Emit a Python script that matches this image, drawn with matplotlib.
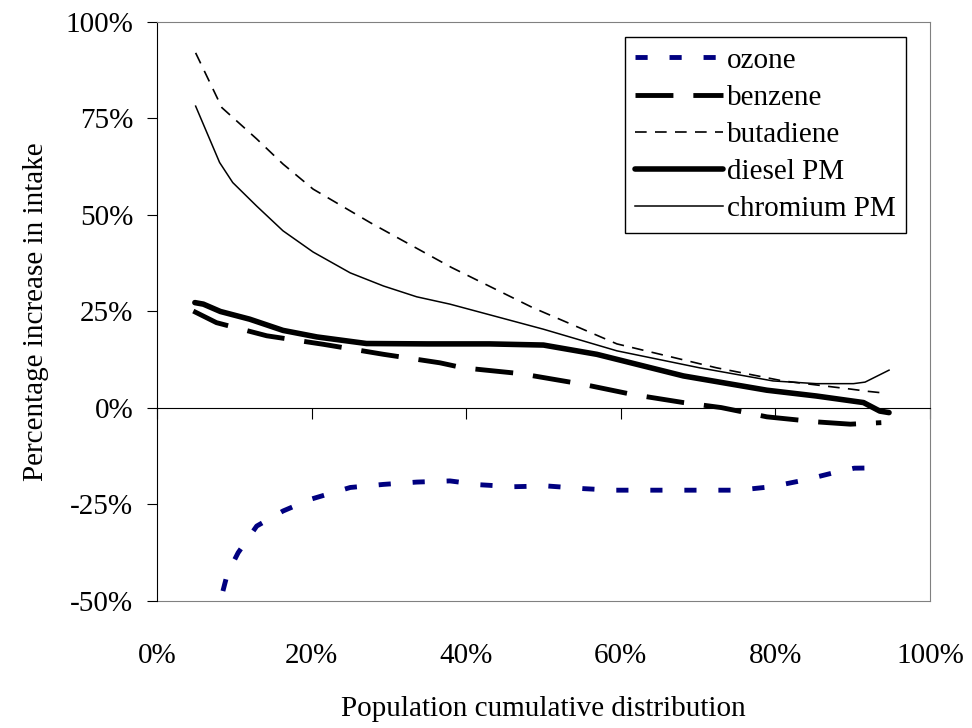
import matplotlib
matplotlib.use("Agg")
import matplotlib.pyplot as plt

plt.rcParams['font.family'] = ['Liberation Serif', 'DejaVu Serif']

# Data (x: population cumulative %, y: % increase in intake)
ozone_x = [7.5, 8.2, 9.1, 10.5, 12.9, 16.3, 19.8, 25.0, 29.3, 33.6, 37.9, 41.8, 46.1,
           50.4, 55.2, 59.0, 63.3, 68.1, 72.0, 75.2, 79.5, 83.7, 87.5, 90.2, 94.0]
ozone_y = [-56, -50, -43, -37.5, -30.6, -26.7, -23.7, -20.6, -19.8, -19.2, -18.9, -19.9, -20.4,
           -20.2, -20.9, -21.3, -21.3, -21.3, -21.3, -21.3, -20.4, -18.7, -16.8, -15.6, -15.5]

benzene_x = [4.7, 7.7, 14.2, 21.5, 29.3, 36.6, 39.6, 47.0, 55.2, 61.5, 68.1, 73.0, 78.9, 85.3, 89.7, 93.7]
benzene_y = [25.1, 22.1, 18.7, 16.5, 13.9, 11.7, 10.4, 8.9, 6.1, 3.5, 1.4, 0.1, -2.3, -3.6, -4.2, -3.8]

butadiene_x = [5.0, 8.4, 12.9, 16.3, 20.2, 27.6, 38.1, 48.6, 59.5, 72.4, 81.0, 89.7, 92.0, 94.4]
butadiene_y = [92.0, 77.8, 69.7, 63.2, 56.7, 48.0, 36.4, 26.0, 16.6, 10.4, 7.0, 4.9, 4.3, 3.8]

diesel_x = [4.9, 6.0, 8.2, 12.0, 16.3, 20.7, 27.1, 35.0, 43.0, 50.0, 56.9, 68.1, 78.9, 85.3, 91.4, 93.5, 94.7]
diesel_y = [27.3, 26.9, 25.0, 23.0, 20.1, 18.4, 16.7, 16.6, 16.6, 16.3, 13.9, 8.3, 4.6, 3.1, 1.4, -0.8, -1.2]

chromium_x = [5.0, 8.1, 9.8, 12.9, 16.3, 20.2, 25.0, 29.3, 33.6, 37.9, 50.0, 59.5, 70.2, 79.7, 85.3, 90.1, 91.6, 94.7]
chromium_y = [78.2, 63.6, 58.4, 52.3, 45.9, 40.4, 35.0, 31.6, 28.8, 26.9, 20.4, 14.8, 10.4, 7.0, 6.3, 6.3, 6.7, 9.8]

x_ticks = [0, 20, 40, 60, 80, 100]
y_ticks = [-50, -25, 0, 25, 50, 75, 100]

fig = plt.figure(figsize=(9.72, 7.28), dpi=100)
ax = fig.add_axes([0.1615, 0.1745, 0.7953, 0.7953])

ax.plot(ozone_x, ozone_y, color='#000080', lw=3.5, dashes=(2.5, 4.5), label='ozone')
ax.plot(benzene_x, benzene_y, color='black', lw=3.5, dashes=(7.8, 4.1), label='benzene')
ax.plot(butadiene_x, butadiene_y, color='black', lw=1.2, dashes=(7, 5), label='butadiene')
ax.plot(diesel_x, diesel_y, color='black', lw=4, solid_capstyle='round', label='diesel PM')
ax.plot(chromium_x, chromium_y, color='black', lw=1.1, label='chromium PM')

ax.set_xlim(0, 100)
ax.set_ylim(-50, 100)
ax.set_yticks(y_ticks)
ax.set_yticklabels([f"{v}%" for v in y_ticks])
ax.set_xticks(x_ticks)

# x axis crosses at 0, labels stay at the bottom of the plot area
ax.spines['bottom'].set_position(('data', 0))
ax.spines['bottom'].set_color('black')
ax.spines['top'].set_color('gray')
ax.spines['right'].set_color('gray')
ax.spines['left'].set_color('black')
ax.tick_params(axis='x', direction='out', length=8, labelbottom=False)
ax.tick_params(axis='y', direction='out', length=7, pad=10, labelsize=21)

sec = ax.secondary_xaxis(0)
sec.set_xticks(x_ticks)
sec.set_xticklabels([f"{v}%" for v in x_ticks])
sec.spines['bottom'].set_color('gray')
sec.tick_params(length=0, pad=30, labelsize=21)
sec.set_xlabel("Population cumulative distribution", fontsize=21, labelpad=20)

ax.set_ylabel("Percentage increase in intake", fontsize=21, labelpad=12)

leg = ax.legend(loc='upper right', bbox_to_anchor=(0.969, 0.974), borderaxespad=0,
                fontsize=21, handlelength=3.0, handletextpad=0.15, labelspacing=0.37,
                borderpad=0.35, fancybox=False, edgecolor='black', framealpha=1)
leg.get_frame().set_linewidth(1)

fig.savefig("out.png", dpi=100)
